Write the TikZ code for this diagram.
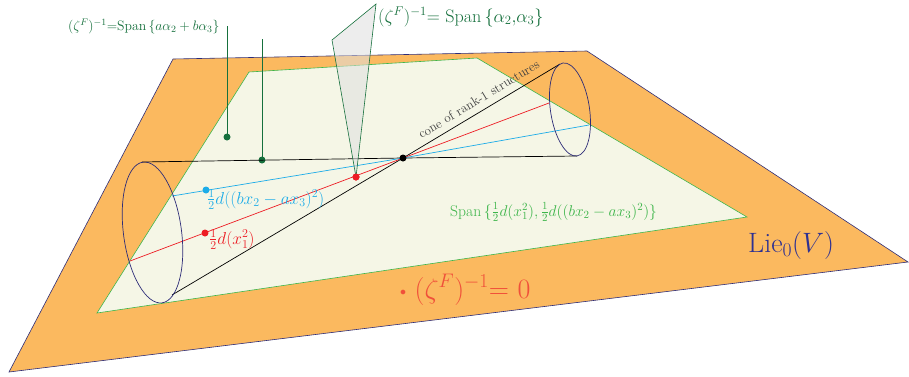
\documentclass[tikz,border=0pt]{standalone}
\usepackage{fix-cm}
\usepackage{amsmath}
\usepackage{xcolor}
\usepackage{tikz}
\usetikzlibrary{calc}
\definecolor{planeorange}{HTML}{FBB95F}
\definecolor{planecream}{HTML}{F5F6E6}
\definecolor{edgenavy}{HTML}{2E2D78}
\definecolor{spangreen}{HTML}{3DB54A}
\definecolor{fibregreen}{HTML}{16703D}
\definecolor{rankred}{HTML}{ED1C24}
\definecolor{rankblue}{HTML}{1CACE8}
\definecolor{zerored}{HTML}{F0503A}
\definecolor{lienavy}{HTML}{2E3192}

\begin{document}
\begin{tikzpicture}[x=1pt,y=-1pt,
  every node/.style={inner sep=0pt},
  coneline/.style={black,line width=0.7pt},
  rim/.style={edgenavy,line width=0.7pt},
  pt/.style={circle,minimum size=7pt,inner sep=0pt}]
  \useasboundingbox (0,0) rectangle (909,376);
  \coordinate (apex) at (403,158);
  \coordinate (lc) at (152.5,232.5);
  \coordinate (rc) at (570,109.5);
  \filldraw[fill=planeorange,draw=edgenavy,line width=0.6pt] (173,59) -- (587,51) -- (908,262) -- (9,372) -- cycle;
  \filldraw[fill=planecream,draw=spangreen,line width=0.6pt] (249,72) -- (477,58) -- (747,217) -- (97,313) -- cycle;
  \coordinate (g1top) at (227,26);
  \coordinate (g2top) at (262,39);
  \node[pt,fill=fibregreen] (g1) at (227,137) {};
  \node[pt,fill=fibregreen] (g2) at (262,160) {};
  \draw[fibregreen,line width=0.8pt] (g1top) -- (g1.center);
  \draw[fibregreen,line width=0.8pt] (g2top) -- (g2.center);
  \coordinate (lt) at (142,162);
  \coordinate (lb) at (172,295);
  \coordinate (rt) at (560,64);
  \coordinate (rb) at (577,156);
  \draw[coneline] (lt) -- (apex) -- (rb);
  \draw[coneline] (lb) -- (apex) -- (rt);
  \coordinate (lred) at (130,261);
  \coordinate (rred) at (549,103);
  \coordinate (lblue) at (172,196);
  \coordinate (rblue) at (589,125);
  \draw[rankred,line width=0.7pt] (lred) -- (rred);
  \draw[rankblue,line width=0.7pt] (lblue) -- (apex) -- (rblue);
  \draw[rim,rotate around={7.7:(lc)}] (lc) ellipse [x radius=29pt,y radius=71pt];
  \draw[rim,rotate around={8.6:(rc)}] (rc) ellipse [x radius=19.5pt,y radius=47pt];
  \node[pt,fill=rankred] (r2) at (356,177) {};
  \filldraw[fill=gray!25,fill opacity=0.55,draw=fibregreen,line width=0.6pt] (376,4) -- (332,40) -- (r2.center) -- cycle;
  \node[pt,fill=rankred] at (r2) {};
  \node[pt,fill=rankred] (r1) at (205,233) {};
  \node[pt,fill=rankblue] (b1) at (206,190) {};
  \node[pt,fill=black] (a) at (apex) {};
  \node[anchor=base west,fibregreen,font=\fontsize{13.7}{16}\selectfont] (fibre2) at (68,30) {$(\zeta^F)^{-1}$=Span$\,\{a\alpha_2+b\alpha_3\}$};
  \node[anchor=base west,fibregreen,font=\fontsize{18.1}{21}\selectfont] (fibre1) at (378,22) {$(\zeta^F)^{-1}$= Span$\,\{\alpha_2,\!\alpha_3\}$};
  \node[anchor=base,black!75,rotate=31.2,font=\fontsize{13}{15}\selectfont] (cone) at (481,103) {cone of rank-1 structures};
  \node[anchor=base west,rankblue,font=\fontsize{17.28}{20}\selectfont] (lblb) at (207,204) {$\tfrac12 d((bx_2-ax_3)^2)$};
  \node[anchor=base west,rankred,font=\fontsize{17.28}{20}\selectfont] (lblr) at (209,244) {$\tfrac12 d(x_1^2)$};
  \node[anchor=base west,spangreen,font=\fontsize{15.6}{18}\selectfont] (span) at (450,216) {Span$\,\{\tfrac12 d(x_1^2),\tfrac12 d((bx_2-ax_3)^2)\}$};
  \node[anchor=base west,lienavy,font=\fontsize{28}{32}\selectfont] (lie) at (748,252) {Lie$_0(V)$};
  \node[anchor=base west,zerored,font=\fontsize{28}{32}\selectfont] (zero) at (400,298) {\raisebox{3pt}{\fontsize{12}{13}\selectfont$\bullet$} $(\zeta^F)^{-1}$= 0};
\end{tikzpicture}
\end{document}
